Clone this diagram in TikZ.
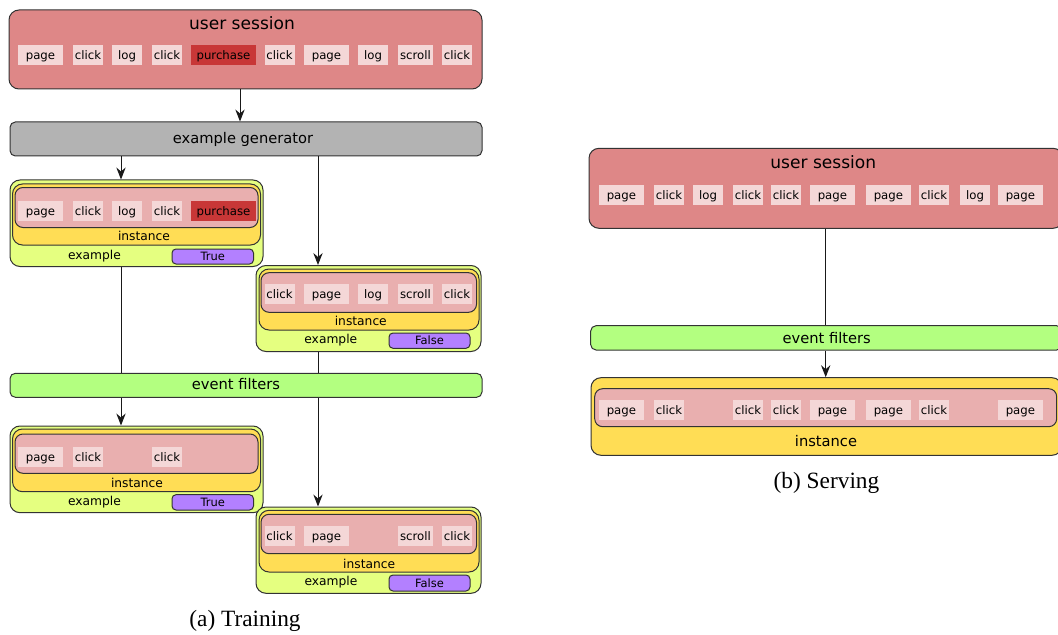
\documentclass[tikz,border=0pt]{standalone}
\usepackage{fontspec}
\setmainfont{Liberation Serif}
\newfontfamily\dejavu{DejaVu Sans}
\usetikzlibrary{arrows.meta,fit}

\definecolor{sessred}{HTML}{DE8787}
\definecolor{toklight}{HTML}{F4D7D7}
\definecolor{buyred}{HTML}{C83737}
\definecolor{gengray}{HTML}{B3B3B3}
\definecolor{exgreen}{HTML}{E5FF80}
\definecolor{instyellow}{HTML}{FFDD55}
\definecolor{evpink}{HTML}{E9AFAF}
\definecolor{labpurple}{HTML}{B380FF}
\definecolor{filtgreen}{HTML}{B3FF80}

\begin{document}
\begin{tikzpicture}[x=0.75pt, y=-0.75pt, font=\dejavu,
    box/.style={draw=black!80, line width=0.75pt, inner sep=0pt, rounded corners=7.5pt},
    sessbox/.style={box, fill=sessred},
    genbox/.style={box, fill=gengray, rounded corners=4pt},
    filtbox/.style={box, fill=filtgreen, rounded corners=4pt},
    exbox/.style={box, fill=exgreen},
    instbox/.style={box, fill=instyellow},
    evbox/.style={box, fill=evpink, rounded corners=6pt},
    labbox/.style={box, fill=labpurple, rounded corners=3pt},
    tok/.style={fill=toklight, minimum height=15pt, inner sep=0pt,
        text height=7.5pt, text depth=0.5pt,
        font=\dejavu\fontsize{8.8}{10}\selectfont},
    title/.style={font=\dejavu\fontsize{12.8}{15}\selectfont},
    bar/.style={font=\dejavu\fontsize{11}{13}\selectfont},
    small/.style={font=\dejavu\fontsize{9.2}{11}\selectfont},
    lab/.style={font=\dejavu\fontsize{8.6}{10}\selectfont},
    captext/.style={font=\fontsize{17.5}{20}\selectfont},
    conn/.style={draw=black!90, line width=0.75pt},
    arr/.style={conn, -{Stealth[length=9pt, width=7pt, inset=3pt]}}]

    \useasboundingbox (0,0) rectangle (1058,635);

    % a box from its corners: name, x1, y1, x2, y2, style
    \def\blk#1#2#3#4#5#6{%
        \coordinate (#1-nw) at (#2,#3);
        \coordinate (#1-se) at (#4,#5);
        \node[#6, fit=(#1-nw)(#1-se)] (#1) {};}

    % columns of the connectors
    \coordinate (colM) at (240,0);
    \coordinate (colA) at (121,0);
    \coordinate (colB) at (318,0);
    \coordinate (colS) at (825.7,0);

    %%%%%%%%%%%%%%%% (a) training %%%%%%%%%%%%%%%%

    % user session
    \blk{sess}{9}{10}{482}{89}{sessbox}
    \node[title] (sess-t) at (242,23) {user session};
    \foreach \x/\bw/\col/\w [count=\i] in {40.5/45/toklight/page, 88/30/toklight/click,
        127/30/toklight/log, 167/30/toklight/click, 223.5/65/buyred/purchase,
        279.5/30/toklight/click, 326.5/45/toklight/page, 373/30/toklight/log,
        415.5/35/toklight/scroll, 457/30/toklight/click}
        \node[tok, fill=\col, minimum width=\bw*0.75pt] (us-\i) at (\x,55) {\w};

    % example generator
    \blk{gen}{10}{122}{482}{156}{genbox}
    \node[bar] (gen-t) at (243,139.5) {example generator};

    % first example (True)
    \blk{ex1}{10}{180}{263}{266.5}{exbox}
    \blk{in1}{12.5}{184}{260.5}{245}{instbox}
    \blk{ev1}{15}{187.5}{258}{227.5}{evbox}
    \foreach \x/\bw/\col/\w [count=\i] in {40.5/45/toklight/page, 88/30/toklight/click,
        127/30/toklight/log, 167/30/toklight/click, 223.5/65/buyred/purchase}
        \node[tok, fill=\col, minimum width=\bw*0.75pt] (e1-\i) at (\x,211) {\w};
    \node[small] (in1-t) at (144,235.5) {instance};
    \node[small] (ex1-t) at (94.5,256) {example};
    \blk{lb1}{172}{249}{253.5}{264}{labbox}
    \node[lab] (lb1-t) at (lb1) {True};

    % second example (False)
    \blk{ex2}{256}{265.5}{481}{351.5}{exbox}
    \blk{in2}{259}{269}{479}{330}{instbox}
    \blk{ev2}{261}{272.7}{476.5}{312.3}{evbox}
    \foreach \x/\bw/\w [count=\i] in {279.5/30/click, 326.5/45/page,
        373/30/log, 415.5/35/scroll, 457/30/click}
        \node[tok, minimum width=\bw*0.75pt] (e2-\i) at (\x,294) {\w};
    \node[small] (in2-t) at (360.8,320.5) {instance};
    \node[small] (ex2-t) at (330.8,340.5) {example};
    \blk{lb2}{389}{333}{470}{348.3}{labbox}
    \node[lab] (lb2-t) at (lb2) {False};

    % event filters
    \blk{filt}{10}{373.3}{482}{397.3}{filtbox}
    \node[bar] (filt-t) at (236,384.5) {event filters};

    % third example (True, filtered)
    \blk{ex3}{10}{426}{263}{512.7}{exbox}
    \blk{in3}{12.5}{429}{260.5}{491.7}{instbox}
    \blk{ev3}{15}{434}{258}{473.3}{evbox}
    \foreach \x/\bw/\w [count=\i] in {40.5/45/page, 88/30/click, 167/30/click}
        \node[tok, minimum width=\bw*0.75pt] (e3-\i) at (\x,457) {\w};
    \node[small] (in3-t) at (137,482.5) {instance};
    \node[small] (ex3-t) at (94.5,502.5) {example};
    \blk{lb3}{172}{494.7}{253.5}{510}{labbox}
    \node[lab] (lb3-t) at (lb3) {True};

    % fourth example (False, filtered)
    \blk{ex4}{256}{507}{481}{593.3}{exbox}
    \blk{in4}{259}{510.3}{479}{572}{instbox}
    \blk{ev4}{261}{514.3}{476.5}{553.7}{evbox}
    \foreach \x/\bw/\w [count=\i] in {279.5/30/click, 326.5/45/page,
        415.5/35/scroll, 457/30/click}
        \node[tok, minimum width=\bw*0.75pt] (e4-\i) at (\x,535.7) {\w};
    \node[small] (in4-t) at (369.2,563.5) {instance};
    \node[small] (ex4-t) at (331,582.5) {example};
    \blk{lb4}{389}{575}{470}{591}{labbox}
    \node[lab] (lb4-t) at (lb4) {False};

    % connectors
    \draw[arr] (sess.south -| colM) -- (gen.north -| colM);
    \draw[arr] (gen.south -| colA) -- (ex1.north -| colA);
    \draw[arr] (gen.south -| colB) -- (ex2.north -| colB);
    \draw[conn] (ex1.south -| colA) -- (filt.north -| colA);
    \draw[conn] (ex2.south -| colB) -- (filt.north -| colB);
    \draw[arr] (filt.south -| colA) -- (ex3.north -| colA);
    \draw[arr] (filt.south -| colB) -- (ex4.north -| colB);

    \node[captext] (cap-a) at (245,621) {(a) Training};

    %%%%%%%%%%%%%%%% (b) serving %%%%%%%%%%%%%%%%

    % user session
    \blk{sess2}{589}{148.3}{1063}{228.3}{sessbox}
    \node[title] (sess2-t) at (823.3,162) {user session};
    \foreach \x/\bw/\w [count=\i] in {621.4/45/page, 669/30/click, 708/30/log,
        748/30/click, 786/30/click, 832.4/45/page, 888.4/45/page, 934/30/click,
        975/30/log, 1020.4/45/page}
        \node[tok, minimum width=\bw*0.75pt] (ss-\i) at (\x,195) {\w};

    % event filters
    \blk{filt2}{590.7}{325.7}{1062}{350}{filtbox}
    \node[bar] (filt2-t) at (826.7,338.5) {event filters};

    % instance
    \blk{in5}{591}{377.7}{1062}{455.3}{instbox}
    \blk{ev5}{594.7}{388.7}{1056.7}{426.7}{evbox}
    \foreach \x/\bw/\w [count=\i] in {621.4/45/page, 669/30/click,
        748/30/click, 786/30/click, 832.4/45/page, 888.4/45/page, 934/30/click,
        1020.4/45/page}
        \node[tok, minimum width=\bw*0.75pt] (e5-\i) at (\x,409.7) {\w};
    \node[bar] (in5-t) at (826,441) {instance};

    % connectors
    \draw[conn] (sess2.south -| colS) -- (filt2.north -| colS);
    \draw[arr] (filt2.south -| colS) -- (in5.north -| colS);

    \node[captext] (cap-b) at (826.5,483) {(b) Serving};

\end{tikzpicture}
\end{document}
